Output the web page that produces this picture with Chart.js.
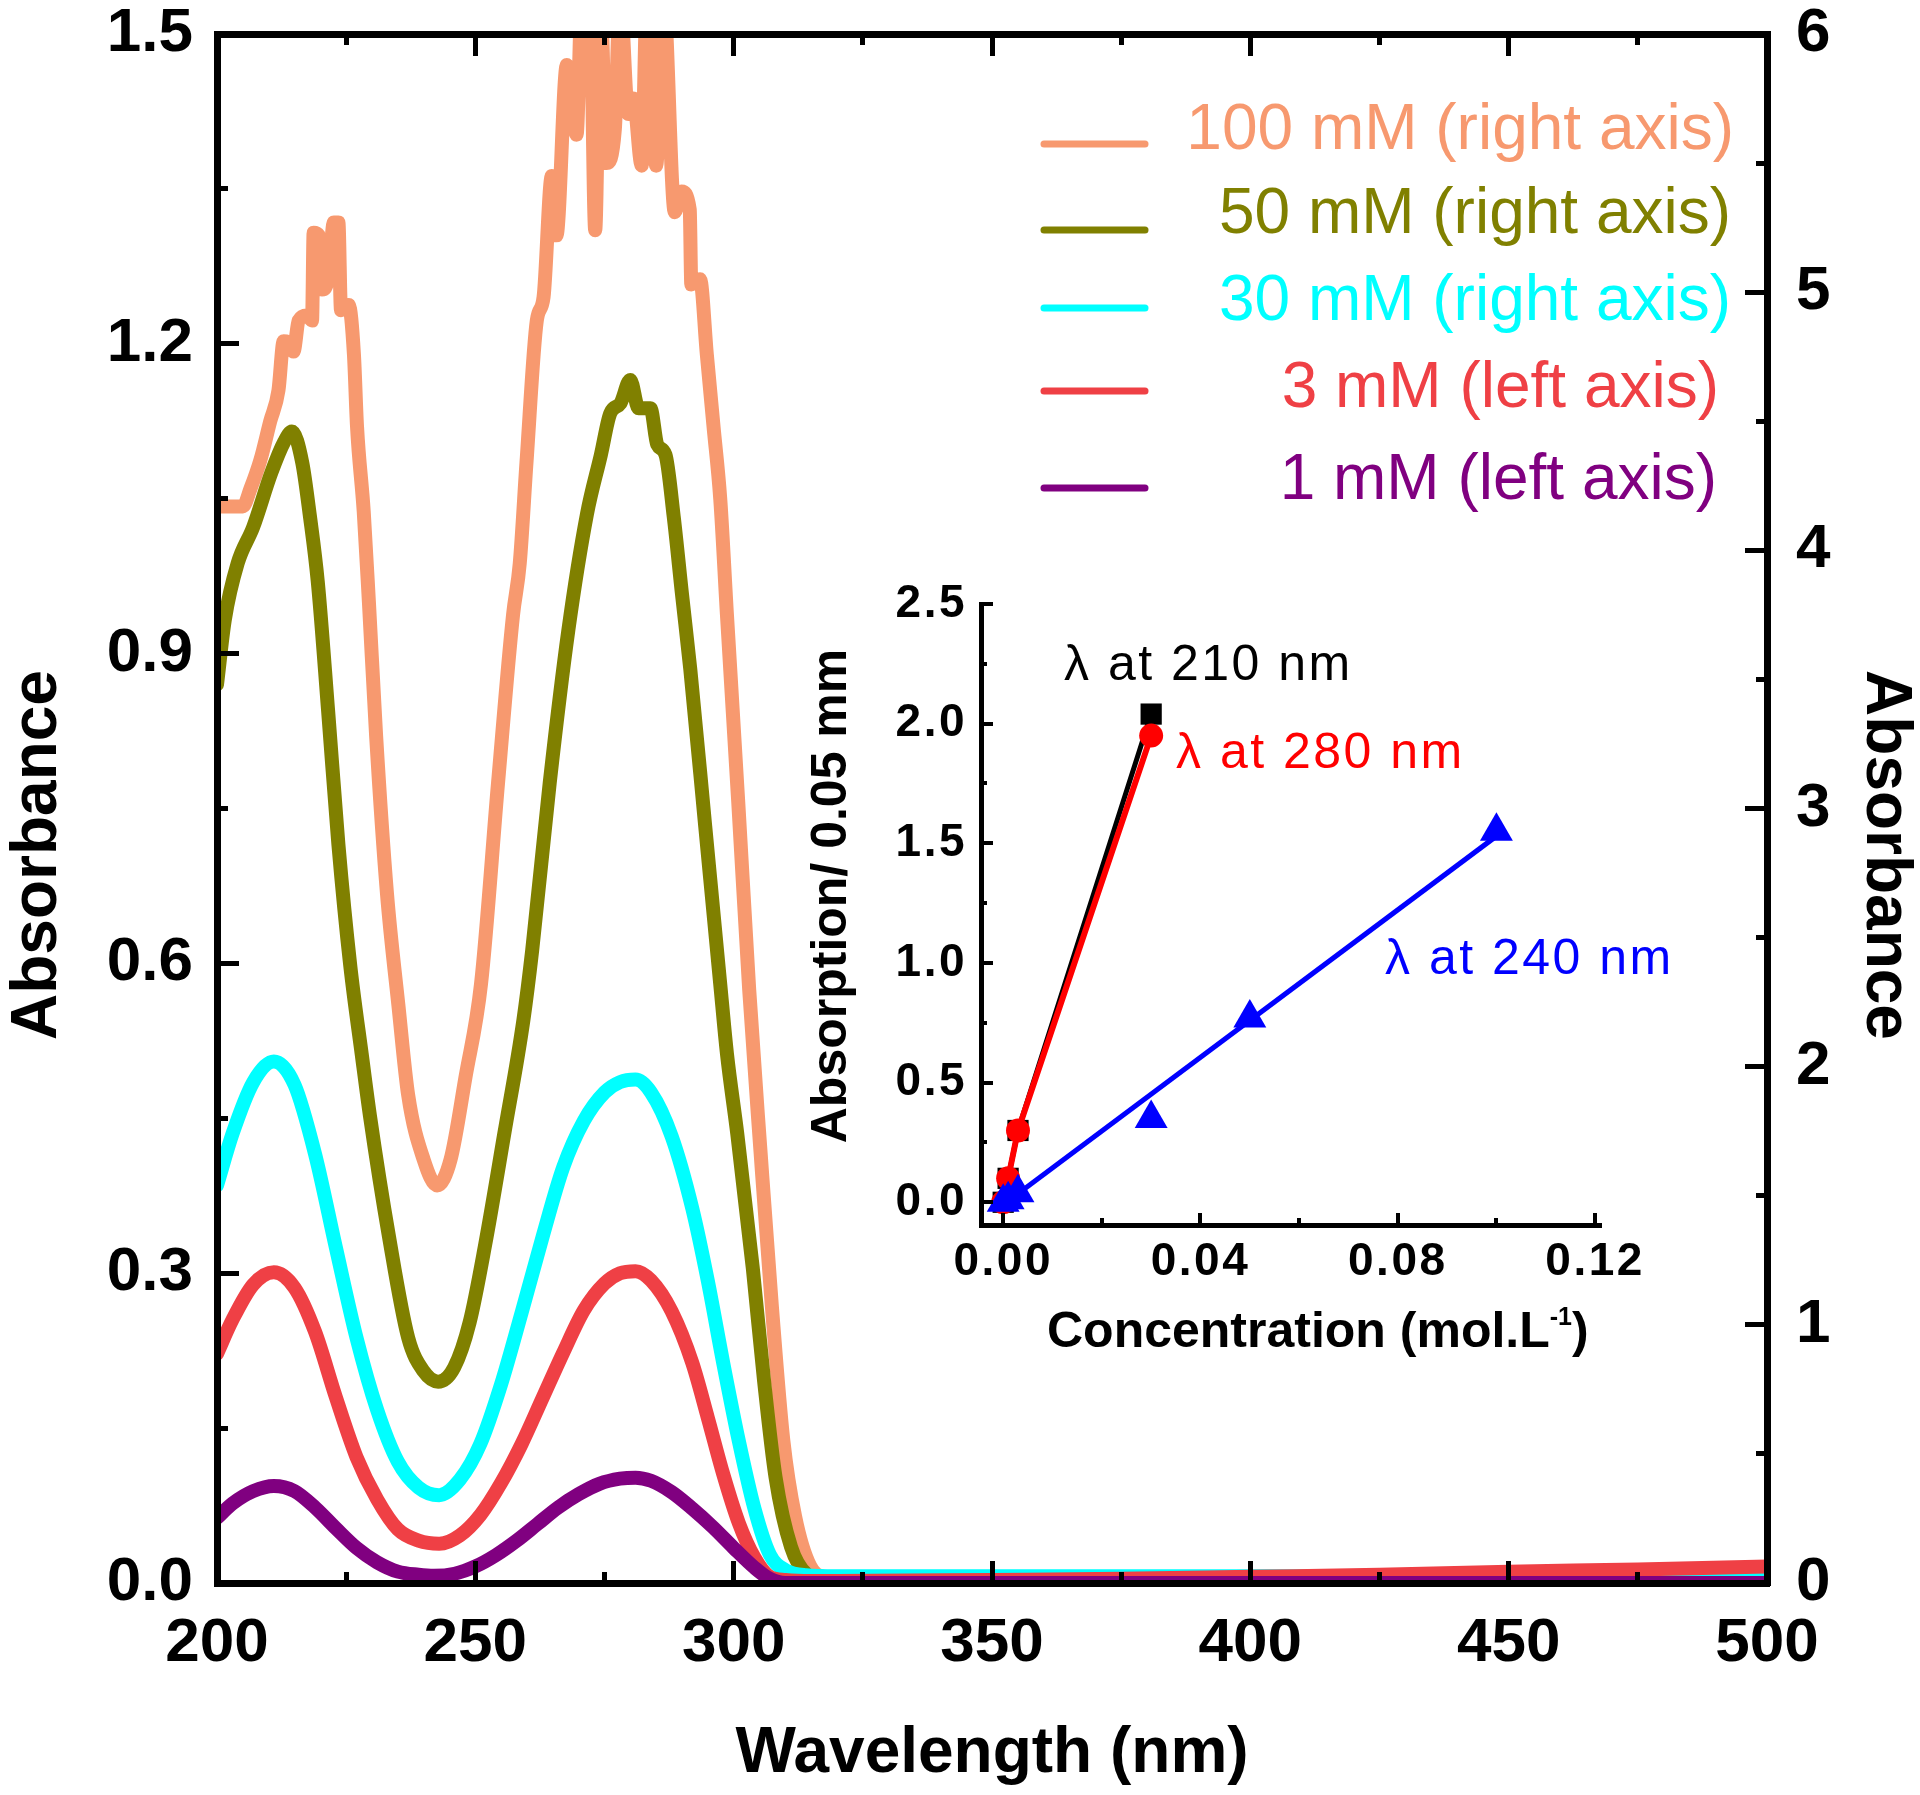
<!DOCTYPE html>
<html>
<head>
<meta charset="utf-8">
<script src="https://cdn.jsdelivr.net/npm/chart.js@4.4.1/dist/chart.umd.min.js"></script>
<style>
html,body{margin:0;padding:0;background:#fff;}
#wrap{position:relative;width:1920px;height:1795px;overflow:hidden;background:#fff;}
canvas{display:block;position:absolute;}
#main{left:0;top:0;}
#inset{left:760px;top:560px;}
</style>
</head>
<body>
<div id="wrap">
<canvas id="main" width="1920" height="1795"></canvas>
<canvas id="inset" width="1000" height="820"></canvas>
</div>
<script>
// ================= DATA (main spectra) =================
// 1 mM (left axis)
const wl1mM = [200,203,207,211,215,219,223,227,231,235,239,242,246,250,254,258,262,266,270,274,278,281,284,288,292,296,300,304,307,310,320,350,400,450,500];
const abs1mM = [0.063,0.077,0.089,0.094,0.089,0.073,0.053,0.034,0.020,0.011,0.008,0.007,0.009,0.016,0.027,0.041,0.057,0.073,0.086,0.096,0.101,0.102,0.099,0.088,0.072,0.054,0.034,0.015,0.004,0,0,0,0,0,0];
// 3 mM (left axis)
const wl3mM = [200,203,207,211,215,219,223,227,231,235,239,243,247,251,255,259,263,267,271,275,278,281,284,288,292,295,298,301,304,307,310,315,320,350,375,400,425,450,475,500];
const abs3mM = [0.222,0.255,0.289,0.301,0.286,0.243,0.180,0.122,0.081,0.052,0.041,0.038,0.046,0.066,0.097,0.135,0.179,0.223,0.264,0.290,0.300,0.302,0.293,0.263,0.213,0.160,0.105,0.058,0.025,0.006,0.003,0.002,0.002,0.003,0.004,0.006,0.008,0.011,0.013,0.016];
// 30 mM (right axis)
const wl30mM = [200,203,207,211,215,219,223,227,231,235,239,243,247,251,255,259,263,267,271,275,278,281,284,288,292,295,298,301,304,307,310,314,320,350,400,450,500];
const abs30mM = [1.54,1.74,1.94,2.02,1.93,1.66,1.30,0.95,0.67,0.47,0.37,0.34,0.40,0.54,0.77,1.05,1.34,1.61,1.79,1.90,1.94,1.95,1.90,1.73,1.45,1.17,0.85,0.55,0.29,0.11,0.05,0.03,0.026,0.026,0.026,0.026,0.026];
// 50 mM (right axis)
const wl50mM = [200,201.5,204,207,210.5,213,214.5,216.5,218,219.5,221.5,223.5,225.8,228,229.6,233.3,237,240,242.8,245.9,248.9,251.9,255.6,259.3,261,264.4,268,271.6,274.3,276.1,278.1,280,281.6,283.9,285.2,286.8,288.4,290,291.6,294.5,297.4,298.7,300.7,303.7,305.9,308.1,311.1,314.1,318,325,400,500];
const abs50mM = [3.48,3.73,3.95,4.09,4.30,4.42,4.46,4.34,4.13,3.88,3.38,2.86,2.39,2.05,1.81,1.34,0.95,0.82,0.78,0.835,1.01,1.31,1.74,2.18,2.45,3.10,3.69,4.14,4.37,4.53,4.57,4.66,4.55,4.55,4.41,4.37,4.13,3.83,3.54,2.93,2.32,2.05,1.74,1.22,0.78,0.41,0.14,0.035,0.012,0.01,0.01,0.01];
// 100 mM (right axis)
const wl100mM = [200,205,206.5,208.4,210.3,211.9,212.9,214.3,214.8,215.8,217.4,218.4,218.7,219.7,220.3,221.6,222.6,223.5,224.0,225.5,226.5,227.1,228.4,229.4,230.8,232.9,235.1,237,240,242.6,245.2,248.1,251.1,254.4,257.3,258.6,259.9,261.9,263.2,264.8,265.7,267.7,269.6,270.6,272.2,273.2,274.2,275.4,277.0,278.0,279.6,280.6,282.2,283.2,285.0,286.4,288.6,289.9,291.5,291.8,293.5,294.8,296.1,297.4,298.7,300.9,303.0,305.2,307.4,309.6,311.9,314.8,318,322,400,500];
const abs100mM = [4.17,4.17,4.24,4.35,4.50,4.62,4.81,4.80,4.77,4.89,4.91,4.89,5.23,5.22,5.01,5.06,5.27,5.27,4.93,4.95,4.76,4.48,4.15,3.80,3.28,2.67,2.24,1.89,1.64,1.54,1.64,1.96,2.32,3.10,3.75,3.95,4.34,4.89,4.98,5.45,5.22,5.88,5.61,6.15,6.15,5.24,6.15,5.50,5.63,6.15,5.69,5.75,5.49,6.15,5.49,6.15,5.31,5.39,5.32,5.03,5.05,4.76,4.48,4.20,3.75,3.02,2.30,1.67,1.07,0.554,0.257,0.066,0.02,0.01,0.01,0.01];

const seriesLabels = ['1 mM (left axis)','3 mM (left axis)','30 mM (right axis)','50 mM (right axis)','100 mM (right axis)'];

// tick values / labels (main)
const xMajorTicks = [200,250,300,350,400,450,500];
const xMinorTicks = [225,275,325,375,425,475];
const yLeftTicks  = [0,0.3,0.6,0.9,1.2,1.5];
const yLeftMinor  = [0.15,0.45,0.75,1.05,1.35];
const yRightTicks = [0,1,2,3,4,5,6];
const yRightMinor = [0.5,1.5,2.5,3.5,4.5,5.5];
const xTitle = 'Wavelength (nm)';
const yLeftTitle = 'Absorbance';
const yRightTitle = 'Absorbance';

// ================= DATA (inset) =================
const conc = [0, 0.001, 0.003, 0.03, 0.05, 0.1];
const abs210 = [0, 0.10, 0.30, 2.04];
const abs280 = [0, 0.10, 0.30, 1.95];
const abs240 = [0, 0.01, 0.04, 0.35, 0.77, 1.55];
const fit240X = [0, 0.1];
const fit240Y = [-0.01, 1.53];
const insetLabels = ['\u03bb at 240 nm', '\u03bb at 280 nm', '\u03bb at 210 nm'];
const insetXTicks = [0, 0.04, 0.08, 0.12];
const insetXMinor = [0.02, 0.06, 0.10];
const insetYTicks = [0, 0.5, 1.0, 1.5, 2.0, 2.5];
const insetYMinor = [0.25, 0.75, 1.25, 1.75, 2.25];
const insetXTitle = 'Concentration (mol.L';
const insetXTitleSup = '-1';
const insetYTitle = 'Absorption/ 0.05 mm';

// ================= STYLE =================
const FONT = "'Liberation Sans', Arial, Helvetica, sans-serif";
const mainColors = ['#800080', '#EF4045', '#00FFFF', '#808000', '#F7996F'];

function pts(xs, ys) { return xs.map((x, i) => ({ x: x, y: ys[i] })); }
function fixSize(prop, val) {
  return s => { s[prop] = val; s.paddingLeft = 0; s.paddingRight = 0; s.paddingTop = 0; s.paddingBottom = 0; };
}
function useTicks(arr) { return s => { s.ticks = arr.map(v => ({ value: v })); }; }
function axis(o) {
  const vertical = (o.position === 'left' || o.position === 'right');
  return {
    type: 'linear', position: o.position, weight: o.weight, min: o.min, max: o.max,
    afterBuildTicks: useTicks(o.ticks),
    afterFit: fixSize(vertical ? 'width' : 'height', o.size),
    ticks: {
      display: !!o.fmt, font: o.font, color: '#000', padding: o.pad || 0,
      autoSkip: false, maxRotation: 0, minRotation: 0, includeBounds: false,
      callback: o.fmt || (() => '')
    },
    grid: {
      display: true, drawOnChartArea: false, drawTicks: true,
      tickLength: o.tickLen, tickWidth: o.tickW, tickColor: '#000',
      color: '#000', lineWidth: o.tickW, z: 1
    },
    border: { display: o.borderW > 0, width: o.borderW || 0, color: '#000', z: 1 },
    title: o.title || { display: false }
  };
}

const mainTickFont = { family: FONT, size: 62, weight: 'bold' };

const mainTextPlugin = {
  id: 'mainText',
  afterDraw(chart) {
    const ctx = chart.ctx;
    ctx.save();
    ctx.fillStyle = '#000';
    ctx.font = 'bold 64px ' + FONT;
    ctx.textAlign = 'center';
    ctx.textBaseline = 'middle';
    ctx.save(); ctx.translate(38, 855); ctx.rotate(-Math.PI / 2); ctx.fillText(yLeftTitle, 0, 0); ctx.restore();
    ctx.save(); ctx.translate(1885, 855); ctx.rotate(Math.PI / 2); ctx.fillText(yRightTitle, 0, 0); ctx.restore();
    // legend (drawn in reverse dataset order: 100 mM first)
    const textY = [131, 215, 302, 389, 481];
    const lineY = [144, 230, 308, 391, 488];
    const textRight = [1734, 1731, 1731, 1719, 1717];
    ctx.font = '64px ' + FONT;
    ctx.textAlign = 'right';
    const n = chart.data.datasets.length;
    for (let r = 0; r < n; r++) {
      const ds = chart.data.datasets[n - 1 - r];
      ctx.strokeStyle = ds.borderColor;
      ctx.lineWidth = 7;
      ctx.lineCap = 'round';
      ctx.beginPath(); ctx.moveTo(1044, lineY[r]); ctx.lineTo(1145, lineY[r]); ctx.stroke();
      ctx.fillStyle = ds.borderColor;
      ctx.fillText(ds.label, textRight[r], textY[r]);
    }
    ctx.restore();
  }
};

const mainSeries = [[wl1mM, abs1mM, 'y'], [wl3mM, abs3mM, 'y'], [wl30mM, abs30mM, 'y2'], [wl50mM, abs50mM, 'y2'], [wl100mM, abs100mM, 'y2']];

new Chart(document.getElementById('main'), {
  type: 'line',
  data: {
    datasets: mainSeries.map((s, i) => ({
      label: seriesLabels[i],
      data: pts(s[0], s[1]),
      yAxisID: s[2],
      xAxisID: 'x',
      borderColor: mainColors[i],
      backgroundColor: mainColors[i],
      borderWidth: 14,
      pointRadius: 0,
      fill: false,
      cubicInterpolationMode: 'monotone',
      borderJoinStyle: 'round',
      borderCapStyle: 'round',
      clip: 0
    }))
  },
  options: {
    responsive: false, animation: false, devicePixelRatio: 1, events: [],
    layout: { padding: { top: 34, left: 0, right: 0, bottom: 0 }, autoPadding: false },
    plugins: { legend: { display: false }, tooltip: { enabled: false } },
    scales: {
      x: axis({ position: 'bottom', weight: 1, min: 200, max: 500, ticks: xMajorTicks, size: 212, tickLen: -22, tickW: 5, borderW: 7,
        font: mainTickFont, pad: 46, fmt: v => String(v),
        title: { display: true, text: xTitle, color: '#000', font: { family: FONT, size: 64, weight: 'bold', lineHeight: 1.2 }, padding: { top: 0, bottom: 2 } } }),
      xMinor: axis({ position: 'bottom', weight: 0, min: 200, max: 500, ticks: xMinorTicks, size: 0, tickLen: -11, tickW: 5, borderW: 0 }),
      xTop: axis({ position: 'top', weight: 1, min: 200, max: 500, ticks: xMajorTicks, size: 0, tickLen: -22, tickW: 5, borderW: 7 }),
      xTopMinor: axis({ position: 'top', weight: 0, min: 200, max: 500, ticks: xMinorTicks, size: 0, tickLen: -11, tickW: 5, borderW: 0 }),
      y: axis({ position: 'left', weight: 1, min: 0, max: 1.5, ticks: yLeftTicks, size: 217, tickLen: -22, tickW: 5, borderW: 7,
        font: mainTickFont, pad: 46, fmt: v => v.toFixed(1) }),
      yMinor: axis({ position: 'left', weight: 0, min: 0, max: 1.5, ticks: yLeftMinor, size: 0, tickLen: -11, tickW: 5, borderW: 0 }),
      y2: axis({ position: 'right', weight: 1, min: 0, max: 6, ticks: yRightTicks, size: 153, tickLen: -22, tickW: 5, borderW: 7,
        font: mainTickFont, pad: 51, fmt: v => String(Math.round(v)) }),
      y2Minor: axis({ position: 'right', weight: 0, min: 0, max: 6, ticks: yRightMinor, size: 0, tickLen: -11, tickW: 5, borderW: 0 })
    }
  },
  plugins: [mainTextPlugin]
});

// ================= INSET =================
const insetTickFont = { family: FONT, size: 46, weight: 'bold' };
const insetTextPlugin = {
  id: 'insetText',
  beforeDraw(chart) { chart.ctx.letterSpacing = '2.5px'; },
  afterDraw(chart) {
    const ctx = chart.ctx;
    ctx.save();
    ctx.letterSpacing = '0px';
    ctx.fillStyle = '#000';
    ctx.font = 'bold 50px ' + FONT;
    ctx.textAlign = 'center';
    ctx.textBaseline = 'middle';
    ctx.save(); ctx.translate(72, 336); ctx.rotate(-Math.PI / 2); ctx.fillText(insetYTitle, 0, 0); ctx.restore();
    ctx.textAlign = 'left';
    ctx.textBaseline = 'alphabetic';
    let x = 287; const base = 787;
    ctx.fillText(insetXTitle, x, base); x += ctx.measureText(insetXTitle).width;
    ctx.font = 'bold 25px ' + FONT;
    ctx.fillText(insetXTitleSup, x, base - 22); x += ctx.measureText(insetXTitleSup).width;
    ctx.font = 'bold 50px ' + FONT;
    ctx.fillText(')', x, base);
    // series annotations
    ctx.font = '50px ' + FONT;
    ctx.letterSpacing = '2.5px';
    ctx.textBaseline = 'middle';
    const pos = [[625, 400], [416, 194], [304, 106]];
    const cols = ['#0000FF', '#FF0000', '#000000'];
    for (let i = 0; i < 3; i++) { ctx.fillStyle = cols[i]; ctx.fillText(insetLabels[i], pos[i][0], pos[i][1]); }
    ctx.restore();
  }
};

new Chart(document.getElementById('inset'), {
  type: 'scatter',
  data: {
    datasets: [
      { label: insetLabels[0], data: pts(conc, abs240), showLine: false, pointStyle: 'triangle', pointRadius: 19,
        backgroundColor: '#0000FF', borderColor: '#0000FF', pointBorderWidth: 0, clip: false },
      { label: 'fit 240', data: pts(fit240X, fit240Y), showLine: true, pointRadius: 0, borderWidth: 5,
        borderColor: '#0000FF', backgroundColor: '#0000FF', clip: false },
      { label: insetLabels[1], data: pts(conc.slice(0, abs280.length), abs280), showLine: true, pointStyle: 'circle', pointRadius: 12,
        borderWidth: 6, borderColor: '#FF0000', backgroundColor: '#FF0000', pointBorderWidth: 0, clip: false },
      { label: insetLabels[2], data: pts(conc.slice(0, abs210.length), abs210), showLine: true, pointStyle: 'rect', pointRadius: 15,
        borderWidth: 5, borderColor: '#000000', backgroundColor: '#000000', pointBorderWidth: 0, clip: false }
    ]
  },
  options: {
    responsive: false, animation: false, devicePixelRatio: 1, events: [],
    layout: { padding: { top: 44, left: 0, right: 160, bottom: 0 }, autoPadding: false },
    plugins: { legend: { display: false }, tooltip: { enabled: false } },
    scales: {
      x: axis({ position: 'bottom', weight: 1, min: -0.0045, max: 0.121, ticks: insetXTicks, size: 155, tickLen: -12, tickW: 4, borderW: 5,
        font: insetTickFont, pad: 22, fmt: v => v.toFixed(2) }),
      xMinor: axis({ position: 'bottom', weight: 0, min: -0.0045, max: 0.121, ticks: insetXMinor, size: 0, tickLen: -7, tickW: 4, borderW: 0 }),
      y: axis({ position: 'left', weight: 1, min: -0.095, max: 2.5, ticks: insetYTicks, size: 221, tickLen: -12, tickW: 4, borderW: 5,
        font: insetTickFont, pad: 26, fmt: v => v.toFixed(1) }),
      yMinor: axis({ position: 'left', weight: 0, min: -0.095, max: 2.5, ticks: insetYMinor, size: 0, tickLen: -6, tickW: 4, borderW: 0 })
    }
  },
  plugins: [insetTextPlugin]
});
</script>
</body>
</html>
